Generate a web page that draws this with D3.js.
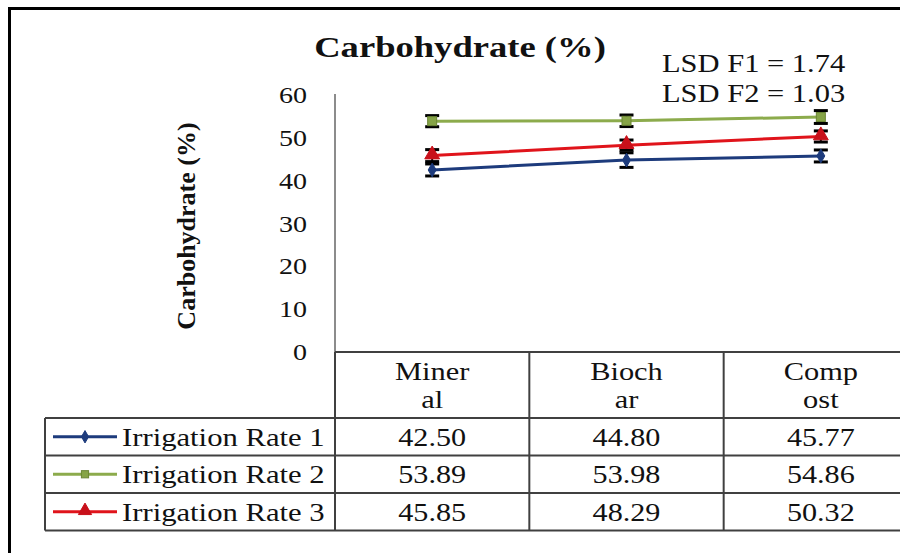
<!DOCTYPE html>
<html>
<head>
<meta charset="utf-8">
<script src="https://cdn.jsdelivr.net/npm/d3@7"></script>
<style>
  html, body { margin: 0; padding: 0; background: #fff; }
  svg { display: block; }
</style>
</head>
<body>
<svg id="chart" width="900" height="553"></svg>
<script>
(function () {
  // data
  const categories = ['Mineral', 'Biochar', 'Compost'];
  const headerLines = [['Miner', 'al'], ['Bioch', 'ar'], ['Comp', 'ost']];
  const seriesNames = ['Irrigation Rate 1', 'Irrigation Rate 2', 'Irrigation Rate 3'];
  const rate1 = [42.50, 44.80, 45.77];
  const rate2 = [53.89, 53.98, 54.86];
  const rate3 = [45.85, 48.29, 50.32];
  const err1 = [1.4, 1.7, 1.4];
  const err2 = [1.3, 1.35, 1.5];
  const err3 = [1.4, 1.2, 1.3];
  const yTicks = [0, 10, 20, 30, 40, 50, 60];
  const lsdLines = ['LSD F1 = 1.74', 'LSD F2 = 1.03'];

  const series = [
    { name: seriesNames[0], values: rate1, err: err1, color: '#1d3b7c', marker: 'diamond' },
    { name: seriesNames[1], values: rate2, err: err2, color: '#8cab4c', marker: 'square' },
    { name: seriesNames[2], values: rate3, err: err3, color: '#e0141b', marker: 'triangle' }
  ];

  const FONT = '"Liberation Serif", "Times New Roman", serif';
  const svg = d3.select('#chart');

  // plot frame
  const plotLeft = 335, plotRight = 918, plotTop = 94, plotBottom = 352;
  const rowH = 37.5, headerBottom = 418, legendLeft = 45;

  const y = d3.scaleLinear().domain([0, 60]).range([plotBottom, 95]);
  const x = d3.scaleBand().domain(categories).range([plotLeft, plotRight]);
  const cx = c => x(c) + x.bandwidth() / 2;

  function txt(sel, px, py, str, size, sx, anchor, weight) {
    return sel.append('text')
      .attr('transform', `translate(${px},${py}) scale(${sx},1)`)
      .attr('font-family', FONT)
      .attr('font-size', size)
      .attr('font-weight', weight || 'normal')
      .attr('text-anchor', anchor || 'start')
      .attr('fill', '#111')
      .text(str);
  }

  // outer border (left and top only visible)
  svg.append('path')
    .attr('d', 'M9.5,553 L9.5,8.5 L900,8.5')
    .attr('fill', 'none').attr('stroke', '#000').attr('stroke-width', 3);

  // title
  txt(svg, 460, 57, 'Carbohydrate (%)', 30, 1.22, 'middle', 'bold');

  // LSD
  lsdLines.forEach((s, i) => txt(svg, 662, 72 + i * 30, s, 25, 1.22, 'start'));

  // y axis label
  svg.append('text')
    .attr('transform', `translate(195,226) rotate(-90)`)
    .attr('font-family', FONT).attr('font-size', 26).attr('font-weight', 'bold')
    .attr('text-anchor', 'middle').attr('fill', '#111')
    .text('Carbohydrate (%)');

  // y axis
  svg.append('line')
    .attr('x1', plotLeft).attr('x2', plotLeft)
    .attr('y1', plotTop).attr('y2', plotBottom)
    .attr('stroke', '#8c8c8c').attr('stroke-width', 2);

  const tickG = svg.append('g');
  yTicks.forEach(t => txt(tickG, 307, y(t) + 8, d3.format('d')(t), 23, 1.22, 'end'));

  // table grid
  const grid = svg.append('g').attr('stroke', '#404040').attr('stroke-width', 2).attr('fill', 'none');
  const tableBottom = headerBottom + rowH * series.length;
  grid.append('line').attr('x1', plotLeft).attr('x2', 900).attr('y1', plotBottom).attr('y2', plotBottom);
  categories.forEach(c => {
    grid.append('line').attr('x1', x(c)).attr('x2', x(c)).attr('y1', plotBottom).attr('y2', tableBottom);
  });
  d3.range(series.length + 1).forEach(i => {
    const yy = headerBottom + i * rowH;
    grid.append('line').attr('x1', legendLeft).attr('x2', 900).attr('y1', yy).attr('y2', yy);
  });
  grid.append('line').attr('x1', legendLeft).attr('x2', legendLeft).attr('y1', headerBottom).attr('y2', tableBottom);

  // header text
  categories.forEach((c, i) => {
    headerLines[i].forEach((l, j) => txt(svg, cx(c), 380 + j * 28, l, 26, 1.17, 'middle'));
  });

  // marker drawing
  function marker(g, type, color, px, py, scale) {
    const k = scale || 1;
    if (type === 'diamond') {
      g.append('path').attr('d', d3.symbol(d3.symbolDiamond, 55 * k)())
        .attr('transform', `translate(${px},${py})`).attr('fill', color).attr('stroke', color);
    } else if (type === 'square') {
      g.append('rect').attr('x', px - 4.5 * k).attr('y', py - 4.5 * k)
        .attr('width', 9 * k).attr('height', 9 * k)
        .attr('fill', '#86a447').attr('stroke', '#6b8535').attr('stroke-width', 1);
    } else {
      g.append('path').attr('d', d3.symbol(d3.symbolTriangle, 95 * k)())
        .attr('transform', `translate(${px},${py - 1})`).attr('fill', '#c8101a').attr('stroke', '#c8101a');
    }
  }

  // lines, error bars, markers
  const line = d3.line().x((d, i) => cx(categories[i])).y(d => y(d));
  const plot = svg.append('g');
  series.forEach(s => {
    plot.append('path').datum(s.values).attr('d', line)
      .attr('fill', 'none').attr('stroke', s.color).attr('stroke-width', 3);
  });
  series.forEach(s => {
    s.values.forEach((v, i) => {
      const px = cx(categories[i]);
      const g = plot.append('g');
      g.append('line').attr('x1', px).attr('x2', px).attr('y1', y(v + s.err[i])).attr('y2', y(v - s.err[i]))
        .attr('stroke', '#000').attr('stroke-width', 2);
      [v + s.err[i], v - s.err[i]].forEach(e => {
        g.append('line').attr('x1', px - 7).attr('x2', px + 7).attr('y1', y(e)).attr('y2', y(e))
          .attr('stroke', '#000').attr('stroke-width', 3);
      });
      marker(g, s.marker, s.color, px, y(v));
    });
  });

  // legend rows + values
  const fmt = d3.format('.2f');
  series.forEach((s, r) => {
    const midY = headerBottom + r * rowH + rowH / 2;
    svg.append('line').attr('x1', 53).attr('x2', 117).attr('y1', midY).attr('y2', midY)
      .attr('stroke', s.color).attr('stroke-width', 3);
    marker(svg, s.marker, s.color, 85, midY, 0.8);
    txt(svg, 122, midY + 9, s.name, 26, 1.18, 'start');
    s.values.forEach((v, i) => txt(svg, cx(categories[i]), midY + 9, fmt(v), 26, 1.16, 'middle'));
  });
})();
</script>
</body>
</html>
